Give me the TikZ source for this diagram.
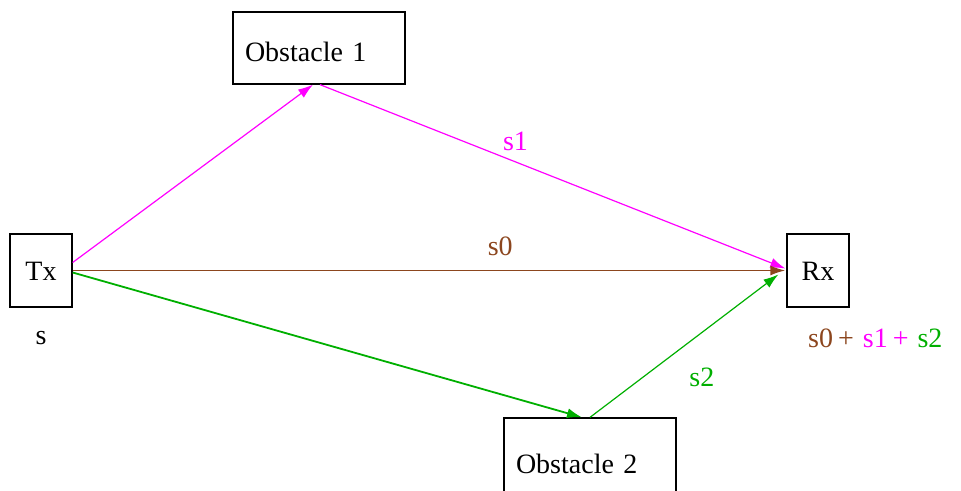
\documentclass[tikz,border=0pt]{standalone}
\usepackage{fontspec}
\setmainfont{Liberation Serif}
\usetikzlibrary{arrows.meta,calc}
\definecolor{cmag}{RGB}{255,0,255}
\definecolor{cbrown}{RGB}{140,70,30}
\definecolor{cgreen}{RGB}{0,175,0}
\begin{document}
\begin{tikzpicture}[x=1pt,y=-1pt,
  box/.style={draw=black,line width=1.3pt,inner sep=0pt,font=\fontsize{28}{32}\selectfont},
  obst/.style={box,minimum width=172pt,minimum height=72pt,text width=148pt,inner xsep=12pt,align=left,text height=30pt,text depth=4pt},
  term/.style={box,minimum width=62pt,minimum height=73pt,text height=22pt,text depth=2pt},
  lbl/.style={font=\fontsize{28}{32}\selectfont,inner sep=0pt},
  ray/.style={line width=1.2pt,-{Latex[length=15pt,width=10pt]}}]
\useasboundingbox (0,0) rectangle (961,490);
\clip (0,0) rectangle (961,490);
\node[term] (tx) at (41,270.5) {Tx};
\node[term] (rx) at (818,270.5) {Rx};
\node[obst] (o1) at (319,48) {Obstacle 1};
\node[obst,minimum height=84pt,text height=36pt,text depth=10pt] (o2) at (590,460) {Obstacle 2};
\coordinate (tm) at ($(tx.east)+(0,-8)$);
\coordinate (tb) at ($(tx.east)+(0,0)$);
\coordinate (tg) at ($(tx.east)+(0,2)$);
\coordinate (o1a) at ($(o1.south)+(-6,0)$);
\coordinate (o1b) at ($(o1.south)+(1,0)$);
\coordinate (o2a) at ($(o2.north)+(-8,0)$);
\coordinate (o2b) at ($(o2.north)+(0,0)$);
\coordinate (rm) at ($(rx.west)+(-1,-2)$);
\coordinate (rb) at ($(rx.west)+(-1,0)$);
\coordinate (rg) at ($(rx.west)+(-8,4)$);
\draw[ray,cmag] (tm) -- (o1a);
\draw[ray,cmag] (o1b) -- node[lbl,pos=0.42,above=10pt] (s1) {s1} (rm);
\draw[ray,cbrown,line width=1.8pt] (tb) -- node[lbl,pos=0.6,above=14pt] (s0) {s0} (rb);
\draw[ray,cgreen,line width=1.8pt] (tg) -- (o2a);
\draw[ray,cgreen] (o2b) -- node[lbl,pos=0.45,below right=14pt] (s2) {s2} (rg);
\node[lbl] (s) at (41,338) {s};
\node[lbl,anchor=west] (sum) at (808,338) {\textcolor{cbrown}{s0\hspace{5pt}+}\hspace{9pt}\textcolor{cmag}{s1\hspace{5pt}+}\hspace{9pt}\textcolor{cgreen}{s2}};
\end{tikzpicture}
\end{document}
